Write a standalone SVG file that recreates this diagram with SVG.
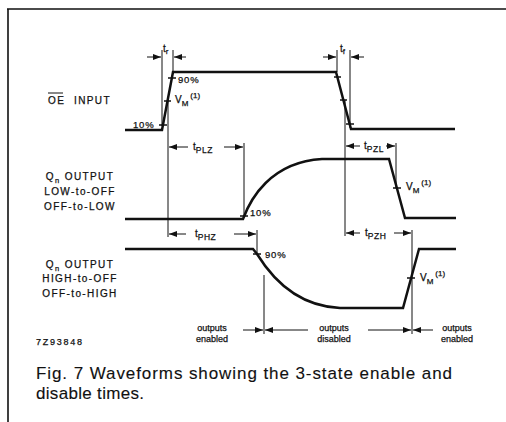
<svg xmlns="http://www.w3.org/2000/svg" width="506" height="422" viewBox="0 0 506 422">
<defs>
<marker id="ah" markerUnits="userSpaceOnUse" markerWidth="8" markerHeight="6" refX="8" refY="3" orient="auto">
<path d="M0,0 L8,3 L0,6 z" fill="#111"/>
</marker>
<style>
.w{fill:none;stroke:#111;stroke-width:2.5;stroke-linejoin:miter}
.r{fill:none;stroke:#111;stroke-width:1}
.a{fill:none;stroke:#111;stroke-width:1;marker-end:url(#ah)}
.k{fill:none;stroke:#111;stroke-width:1.3}
text{font-family:"Liberation Sans",Arial,sans-serif;fill:#111;stroke:#111;stroke-width:0.25}
.l{font-size:10px;letter-spacing:1.4px}
.s{font-size:9.5px;letter-spacing:0.8px}
.o{font-size:9px}
.c{font-size:17px;stroke-width:0.12}
</style>
</defs>
<rect width="506" height="422" fill="#fff"/>
<g id="frame">
<path d="M7,9 H506 M8,9 V422" fill="none" stroke="#111" stroke-width="1.6"/>
</g>
<g id="oe-input">
<path class="w" d="M125,130 H162 L173,72 H336 L351,129 H455"/>
<path class="k" d="M159,125 H167 M164,101 H171 M168,78 H176 M334,77 H341 M340,100 H347 M346,124 H354"/>
<text class="l" x="48" y="104">OE</text>
<path d="M48,93 H63" stroke="#111" stroke-width="1"/>
<text class="l" x="74" y="104">INPUT</text>
<text class="s" x="133" y="128">10%</text>
<text class="s" x="178" y="83">90%</text>
<text x="175" y="103" font-size="10">V<tspan font-size="8" dy="3">M</tspan><tspan font-size="8" dx="2" dy="-8">(1)</tspan></text>
</g>
<g id="q-low">
<path class="w" d="M125,219 H243 C250,200 270,162 322,159 H389 L405,218 H456"/>
<path class="k" d="M240,216 H248 M393,188 H401"/>
<text class="l" x="80" y="180" text-anchor="middle">Q<tspan font-size="7.5" dy="3">n</tspan><tspan dy="-3"> OUTPUT</tspan></text>
<text class="l" x="80" y="195" text-anchor="middle">LOW-to-OFF</text>
<text class="l" x="80" y="210" text-anchor="middle">OFF-to-LOW</text>
<text class="s" x="250" y="216">10%</text>
<text x="406" y="190" font-size="10">V<tspan font-size="8" dy="3">M</tspan><tspan font-size="8" dx="2" dy="-8">(1)</tspan></text>
</g>
<g id="q-high">
<path class="w" d="M125,249 H253 L257,254 C270,275 295,306 340,308 H403 L419,249 H456"/>
<path class="k" d="M253,254 H261 M407,278 H415"/>
<text class="l" x="80" y="268" text-anchor="middle">Q<tspan font-size="7.5" dy="3">n</tspan><tspan dy="-3"> OUTPUT</tspan></text>
<text class="l" x="80" y="282" text-anchor="middle">HIGH-to-OFF</text>
<text class="l" x="80" y="297" text-anchor="middle">OFF-to-HIGH</text>
<text class="s" x="265" y="258">90%</text>
<text x="420" y="281" font-size="10">V<tspan font-size="8" dy="3">M</tspan><tspan font-size="8" dx="2" dy="-8">(1)</tspan></text>
</g>
<g id="connectors">
<path class="r" d="M162,50 V126 M173,50 V72 M168,100 V237 M337,50 V72 M350,50 V128 M345,100 V236 M244,143 V216 M257,230 V254 M396,143 V188 M412,230 V334 M264,275 V334"/>
<path class="a" d="M147,57 H161"/>
<path class="a" d="M186,57 H174"/>
<path class="a" d="M323,57 H336"/>
<path class="a" d="M364,57 H351"/>
<path class="a" d="M188,147 H169"/>
<path class="a" d="M224,147 H243"/>
<path class="a" d="M186,234 H169"/>
<path class="a" d="M234,234 H256"/>
<path class="a" d="M360,146 H346"/>
<path class="a" d="M386,146 H395"/>
<path class="a" d="M360,233 H346"/>
<path class="a" d="M394,233 H411"/>
<path class="a" d="M243,330 H263"/>
<path class="a" d="M308,330 H265"/>
<path class="a" d="M368,330 H411"/>
<path class="a" d="M433,330 H413"/>
</g>
<g id="timing-labels">
<text x="163" y="52" font-size="10">t<tspan font-size="8" dy="2">r</tspan></text>
<text x="340" y="52" font-size="10">t<tspan font-size="8" dy="2">f</tspan></text>
<text x="193" y="150" font-size="10">t<tspan font-size="8.5" dy="3" letter-spacing="0.5">PLZ</tspan></text>
<text x="195" y="237" font-size="10">t<tspan font-size="8.5" dy="3" letter-spacing="0.5">PHZ</tspan></text>
<text x="364" y="149" font-size="10">t<tspan font-size="8.5" dy="3" letter-spacing="0.5">PZL</tspan></text>
<text x="365" y="236" font-size="10">t<tspan font-size="8.5" dy="3" letter-spacing="0.5">PZH</tspan></text>
</g>
<g id="state-labels">
<text class="o" x="212" y="331" text-anchor="middle">outputs</text>
<text class="o" x="212" y="342" text-anchor="middle">enabled</text>
<text class="o" x="334" y="331" text-anchor="middle">outputs</text>
<text class="o" x="334" y="342" text-anchor="middle">disabled</text>
<text class="o" x="457" y="331" text-anchor="middle">outputs</text>
<text class="o" x="457" y="342" text-anchor="middle">enabled</text>
<text x="36" y="345" font-size="9" textLength="46" lengthAdjust="spacing">7Z93848</text>
</g>
<g id="caption">
<text class="c" x="36" y="379" textLength="416" lengthAdjust="spacing">Fig. 7  Waveforms showing the 3-state enable and</text>
<text class="c" x="36" y="399" textLength="108" lengthAdjust="spacing">disable times.</text>
</g>
</svg>
